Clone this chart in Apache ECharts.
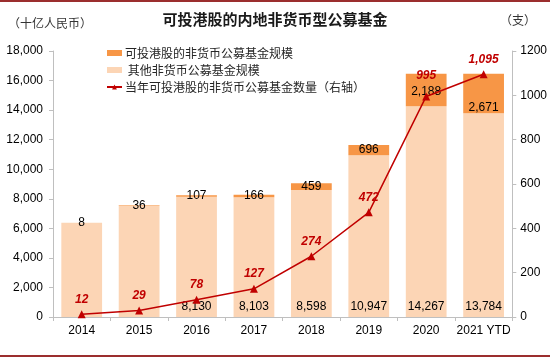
<!DOCTYPE html>
<html>
<head>
<meta charset="utf-8">
<script src="https://cdn.jsdelivr.net/npm/echarts@6/dist/echarts.min.js"></script>
<style>html,body{margin:0;padding:0;background:#fff;}#c{width:550px;height:358px;}</style>
</head>
<body>
<div id="c"></div>
<script>
const categories = ['2014','2015','2016','2017','2018','2019','2020','2021 YTD'];
const otherFunds = [6370, 7540, 8130, 8103, 8598, 10947, 14267, 13784];
const hkFunds = [8, 36, 107, 166, 459, 696, 2188, 2671];
const hkCount = [12, 29, 78, 127, 274, 472, 995, 1095];
const showOtherLabel = [false, false, true, true, true, true, true, true];

const nameHK = '可投港股的非货币公募基金规模';
const nameOther = '其他非货币公募基金规模';
const nameCount = '当年可投港股的非货币公募基金数量（右轴）';
const fmt = v => Number(v).toLocaleString('en-US');
const cjk = '"Noto Sans CJK SC", sans-serif';
const lat = 'Arial, "Liberation Sans", sans-serif';

const hkLabelOpts = [
  {position: 'inside'}, {position: 'inside'}, {position: 'inside'}, {position: 'inside'},
  {position: 'inside'}, {position: 'inside'},
  {position: 'insideBottom', distance: 8},
  {position: 'insideBottom', distance: 0}
];
const countLabelDist = [5, 5, 5, 5, 5, 5, 11, 5];

const chart = echarts.init(document.getElementById('c'));
chart.setOption({
  animation: false,
  backgroundColor: '#fff',
  graphic: [
    {type:'rect', shape:{x:0,y:0,width:550,height:2}, style:{fill:'#9B2E2E'}},
    {type:'rect', shape:{x:0,y:355,width:550,height:2}, style:{fill:'#9B2E2E'}},
    {type:'text', left:8, top:17, style:{text:'（十亿人民币）', font:'12px ' + cjk, fill:'#333'}},
    {type:'text', left:500, top:14, style:{text:'（支）', font:'12px ' + cjk, fill:'#333'}},
    {type:'text', left:'center', top:12, style:{text:'可投港股的内地非货币型公募基金', font:'bold 15px ' + cjk, fill:'#1a1a1a'}}
  ],
  legend: {
    orient: 'vertical', left: 101, top: 42, itemGap: 5, itemWidth: 15, itemHeight: 6,
    textStyle: {fontFamily: cjk, fontSize: 12, color: '#262626', padding: [0, 0, 0, -2]},
    formatter: n => (n === nameOther ? ' ' + n : n),
    data: [
      {name: nameHK, icon: 'rect'},
      {name: nameOther, icon: 'rect'},
      {name: nameCount}
    ]
  },
  grid: {left: 53, right: 36, top: 51, bottom: 41},
  xAxis: {
    type: 'category', data: categories,
    axisLine: {lineStyle: {color: '#BFBFBF'}},
    axisTick: {show: true, alignWithLabel: false, length: 4, lineStyle: {color: '#BFBFBF'}},
    axisLabel: {fontFamily: lat, fontSize: 12, color: '#000', margin: 8, interval: 0}
  },
  yAxis: [
    {
      type: 'value', min: 0, max: 18000, interval: 2000,
      axisLine: {show: true, lineStyle: {color: '#BFBFBF'}},
      axisTick: {show: true, length: 4, lineStyle: {color: '#BFBFBF'}},
      splitLine: {show: false},
      axisLabel: {fontFamily: lat, fontSize: 12, color: '#000', margin: 10, formatter: v => fmt(v)}
    },
    {
      type: 'value', min: 0, max: 1200, interval: 200,
      axisLine: {show: true, lineStyle: {color: '#BFBFBF'}},
      axisTick: {show: true, length: 4, lineStyle: {color: '#BFBFBF'}},
      splitLine: {show: false},
      axisLabel: {fontFamily: lat, fontSize: 12, color: '#000', margin: 8, formatter: v => String(v)}
    }
  ],
  series: [
    {
      name: nameOther, type: 'bar', stack: 'a', barWidth: '71%',
      itemStyle: {color: '#FCD5B5'},
      data: otherFunds.map((v, i) => ({value: v, label: {show: showOtherLabel[i]}})),
      label: {show: true, position: 'insideBottom', distance: 4, fontFamily: lat, fontSize: 12, color: '#000', formatter: p => fmt(p.value)}
    },
    {
      name: nameHK, type: 'bar', stack: 'a', barWidth: '71%',
      itemStyle: {color: '#F79646'},
      data: hkFunds.map((v, i) => ({value: v, label: hkLabelOpts[i]})),
      label: {show: true, position: 'inside', fontFamily: lat, fontSize: 12, color: '#000', formatter: p => fmt(p.value)}
    },
    {
      name: nameCount, type: 'line', yAxisIndex: 1, smooth: false,
      symbol: 'triangle', symbolSize: 8,
      lineStyle: {color: '#C00000', width: 1.5},
      itemStyle: {color: '#C00000'},
      data: hkCount.map((v, i) => ({value: v, label: {distance: countLabelDist[i]}})),
      label: {show: true, position: 'top', distance: 5, fontFamily: lat, fontSize: 12, fontWeight: 'bold', fontStyle: 'italic', color: '#C00000', formatter: p => fmt(p.value)},
      z: 5
    }
  ]
});
</script>
</body>
</html>
